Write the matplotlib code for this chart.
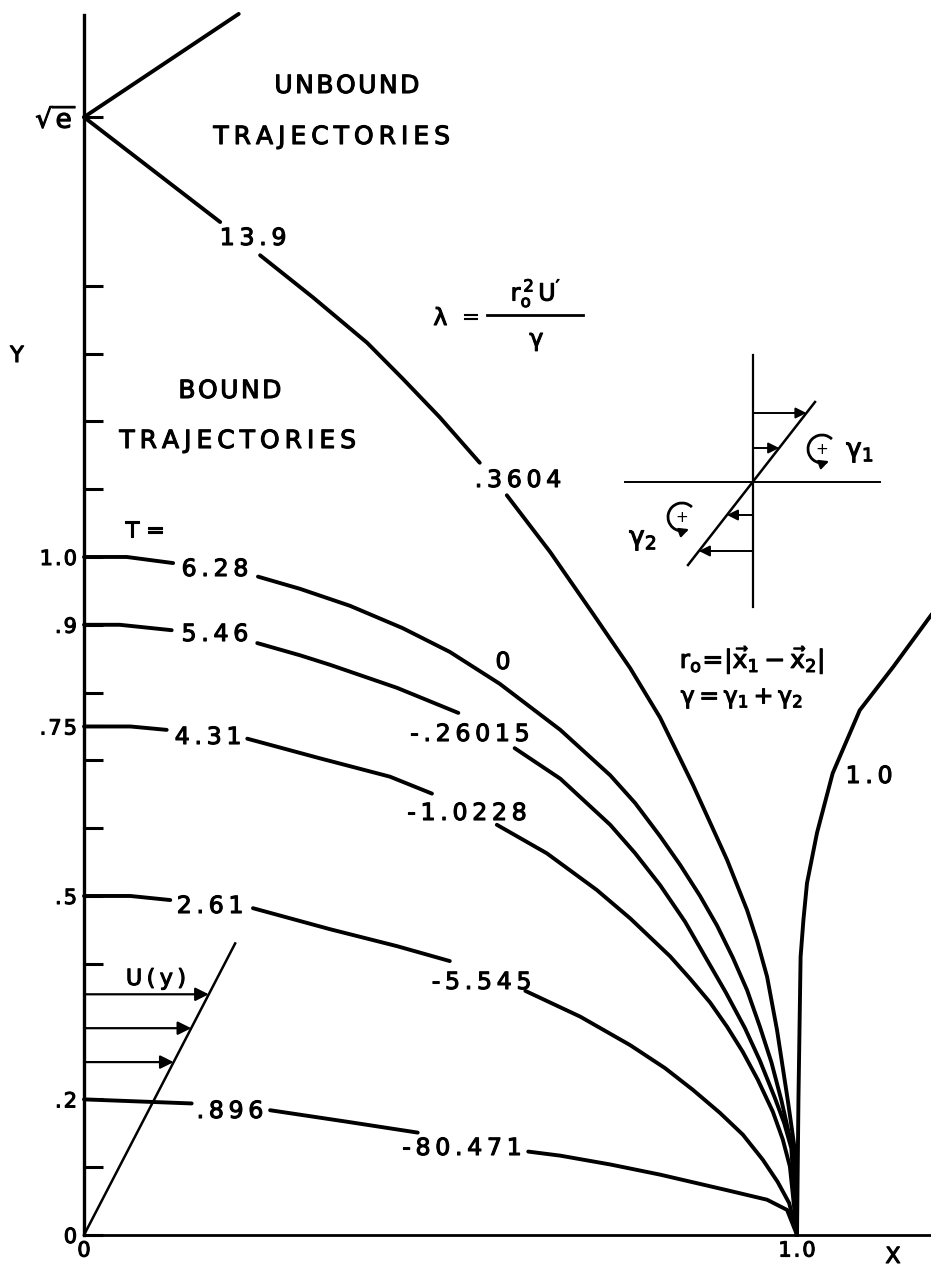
import numpy as np
import matplotlib
matplotlib.use('Agg')
import matplotlib.pyplot as plt
import matplotlib.patheffects as pe
from matplotlib.patches import Arc

plt.rcParams['font.family'] = ['DejaVu Sans']
plt.rcParams['mathtext.default'] = 'regular'

nan = np.nan
SQRT_E = np.sqrt(np.e)

# unbound branch leaving sqrt(e)
unb_x = [0, 0.217]
unb_y = [SQRT_E, 1.801]

# separatrix: T = 13.9, lambda = .3604
sep_x = [0, 0.191, nan, 0.247, 0.321, 0.397, 0.447, 0.499, 0.555, nan, 0.593, 0.654, 0.714,
         0.766, 0.808, 0.854, 0.902, 0.930, 0.944, 0.958, 0.972, 0.987, 0.997, 1.0]
sep_y = [SQRT_E, 1.494, nan, 1.445, 1.383, 1.316, 1.263, 1.206, 1.139, nan, 1.091, 1.007, 0.916,
         0.836, 0.763, 0.664, 0.553, 0.479, 0.434, 0.381, 0.302, 0.199, 0.125, 0.0]

# bound trajectories, start at y = 1.0, .9, .75, .5, .2
t628_x = [0, 0.060, 0.125, nan, 0.244, 0.303, 0.373, 0.447, 0.513, 0.583, 0.668, 0.738,
          0.773, 0.808, 0.836, 0.864, 0.888, 0.910, 0.930, 0.948, 0.964, 0.978, 0.994, 1.0]
t628_y = [1.0, 1.0, 0.991, nan, 0.971, 0.953, 0.928, 0.895, 0.860, 0.813, 0.745, 0.678,
          0.637, 0.588, 0.546, 0.500, 0.456, 0.409, 0.361, 0.307, 0.255, 0.199, 0.125, 0.0]

t546_x = [0, 0.050, 0.123, nan, 0.243, 0.303, 0.345, 0.439, 0.525, nan, 0.604, 0.668,
          0.738, 0.773, 0.808, 0.843, 0.872, 0.900, 0.927, 0.948, 0.969, 0.982, 0.992, 1.0]
t546_y = [0.9, 0.9, 0.892, nan, 0.873, 0.855, 0.841, 0.807, 0.770, nan, 0.718, 0.673,
          0.605, 0.563, 0.516, 0.462, 0.409, 0.358, 0.305, 0.257, 0.202, 0.165, 0.128, 0.0]

t431_x = [0, 0.065, 0.116, nan, 0.229, 0.331, 0.429, 0.488, nan, 0.579, 0.649, 0.719,
          0.766, 0.822, 0.850, 0.878, 0.902, 0.924, 0.945, 0.966, 0.980, 0.990, 1.0]
t431_y = [0.75, 0.75, 0.745, nan, 0.732, 0.703, 0.676, 0.651, nan, 0.605, 0.563, 0.509,
          0.467, 0.411, 0.378, 0.343, 0.307, 0.270, 0.229, 0.182, 0.141, 0.101, 0.0]

t261_x = [0, 0.065, 0.121, nan, 0.237, 0.345, 0.439, 0.513, nan, 0.619, 0.696, 0.766,
          0.815, 0.854, 0.892, 0.924, 0.952, 0.973, 0.989, 1.0]
t261_y = [0.5, 0.5, 0.494, nan, 0.482, 0.451, 0.426, 0.404, nan, 0.360, 0.322, 0.280,
          0.246, 0.214, 0.180, 0.148, 0.111, 0.078, 0.047, 0.0]

t896_x = [0, 0.151, nan, 0.261, 0.331, 0.369, 0.468, nan, 0.623, 0.668, 0.738, 0.808,
          0.902, 0.958, 0.986, 1.0]
t896_y = [0.2, 0.194, nan, 0.184, 0.173, 0.167, 0.151, nan, 0.123, 0.117, 0.104, 0.089,
          0.066, 0.052, 0.037, 0.0]

# lambda = 1.0 branch to the right of x = 1
lam1_x = [1.0, 1.002, 1.005, 1.009, 1.014, 1.028, 1.050, 1.088, 1.135, 1.190]
lam1_y = [0.0, 0.2, 0.41, 0.465, 0.519, 0.593, 0.681, 0.774, 0.838, 0.917]

# shear profile U(y)
u_x = [0, 0.212]
u_y = [0, 0.43]
u_arrow_y = [0.255, 0.305, 0.355]

ytick_vals = [0, 0.1, 0.2, 0.4, 0.5, 0.6, 0.7, 0.75, 0.8, 0.9, 1.0, 1.1, 1.2, 1.3, 1.4, SQRT_E]
ytick_labels = ['0', '', '.2', '', '.5', '', '', '.75', '', '.9', '1.0', '', '', '', '',
                r'$\sqrt{e}$']

# inset: two vortices in shear
ins_line_x = [-0.65, 0.62]
ins_line_y = [-0.83, 0.80]
ins_arrow_y = [0.69, 0.34, -0.33, -0.69]

THIN = '\u2009'
HAIR = '\u200a'
INK = [pe.withStroke(linewidth=0.8, foreground='black')]


def spaced(s, sep=THIN):
    return sep.join(s)


W, H = 931, 1268
fig = plt.figure(figsize=(W / 100, H / 100), dpi=100)
ax = fig.add_axes([0, 0, 1, 1])
ax.set_xlim(-0.1178, 1.1879)
ax.set_ylim(-0.0487, 1.8215)

for s in ['top', 'right']:
    ax.spines[s].set_visible(False)
ax.spines['left'].set_position(('data', 0))
ax.spines['left'].set_bounds(0, 1.799)
ax.spines['bottom'].set_position(('data', 0))
ax.spines['bottom'].set_bounds(0, 1.19)
ax.spines['left'].set_linewidth(2.4)
ax.spines['bottom'].set_linewidth(2.0)

ax.set_yticks(ytick_vals, [spaced(t, HAIR) if '$' not in t else t for t in ytick_labels])
ax.tick_params(axis='y', direction='in', length=14, width=2.2, pad=5, labelsize=15)
ax.get_yticklabels()[-1].set_fontsize(19)
ax.set_xticks([0, 1.0], ['0', spaced('1.0', HAIR)])
ax.tick_params(axis='x', length=0, pad=4, labelsize=15)
for t in ax.get_yticklabels() + ax.get_xticklabels():
    t.set_path_effects(INK)

lw = 2.8
for xs, ys in [(unb_x, unb_y), (sep_x, sep_y), (t628_x, t628_y), (t546_x, t546_y),
               (t431_x, t431_y), (t261_x, t261_y), (t896_x, t896_y), (lam1_x, lam1_y)]:
    ax.plot(xs, ys, color='black', lw=lw, solid_capstyle='round', solid_joinstyle='round')

ax.plot(u_x, u_y, color='black', lw=1.8)
for yv in u_arrow_y:
    tip = np.interp(yv, u_y, u_x)
    ax.annotate('', xy=(tip, yv), xytext=(0, yv),
                arrowprops=dict(arrowstyle='-|>', lw=1.6, color='black',
                                mutation_scale=20, shrinkA=0, shrinkB=0))


def put(px, py, s, size=17, **kw):
    fig.text(px / W, 1 - py / H, s, ha='center', va='center', fontsize=size,
             path_effects=INK, **kw)


# curve labels
for px, py, s in [(253, 238, '13.9'), (518, 480, '.3604'), (215, 569, '6.28'),
                  (215, 634, '5.46'), (208, 737, '4.31'), (210, 906, '2.61'),
                  (230, 1111, '.896'), (503, 662, '0'), (470, 734, '-.26015'),
                  (467, 813, '-1.0228'), (482, 982, '-5.545'), (462, 1148, '-80.471'),
                  (869, 776, '1.0')]:
    put(px, py, spaced(s))

put(347, 86, spaced('UNBOUND', HAIR), 18)
put(332, 137, spaced('TRAJECTORIES'), 18)
put(230, 391, spaced('BOUND', HAIR), 18)
put(238, 441, spaced('TRAJECTORIES'), 18)
put(145, 531, 'T =', 16)
put(17, 356, 'Y', 16)
put(893, 1257, 'X', 16)
put(156, 979, spaced('U(y)'), 16)

# lambda definition
put(441, 318, r'$\lambda$', 17)
put(471, 317, '=', 15)
fig.add_artist(plt.Line2D([487 / W, 583 / W], [1 - 315 / H, 1 - 315 / H], color='black', lw=2))
put(536, 293, r'$r_o^{\,2}\,U^{\prime}$', 17)
put(537, 341, r'$\gamma$', 17)
put(752, 660, r'$r_o\!=\!|\vec{x}_1 - \vec{x}_2|$', 18)
put(742, 698, r'$\gamma=\gamma_1+\gamma_2$', 17)

# inset sketch
iax = fig.add_axes([600 / W, 1 - 620 / H, 300 / W, 280 / H])
iax.set_xlim(-1.53, 1.47)
iax.set_ylim(-1.38, 1.42)
iax.axis('off')
iax.plot([0, 0], [-1.25, 1.27], color='black', lw=1.6)
iax.plot([-1.28, 1.27], [0, 0], color='black', lw=1.4)
iax.plot(ins_line_x, ins_line_y, color='black', lw=1.8)
for yv in ins_arrow_y:
    tip = np.interp(yv, ins_line_y, ins_line_x)
    iax.annotate('', xy=(tip, yv), xytext=(0, yv),
                 arrowprops=dict(arrowstyle='-|>', lw=1.4, color='black',
                                 mutation_scale=16, shrinkA=0, shrinkB=0))

for cx, cy in [(0.69, 0.33), (-0.71, -0.35)]:
    r = 0.14
    iax.add_patch(Arc((cx, cy), 2 * r, 2 * r, theta1=45, theta2=290, color='black', lw=2))
    a0, a1 = np.radians(280), np.radians(300)
    iax.annotate('', xy=(cx + r * np.cos(a1), cy + r * np.sin(a1)),
                 xytext=(cx + r * np.cos(a0), cy + r * np.sin(a0)),
                 arrowprops=dict(arrowstyle='-|>', lw=1.5, color='black',
                                 mutation_scale=14, shrinkA=0, shrinkB=0))
    iax.text(cx, cy, '+', ha='center', va='center', fontsize=11)

iax.text(1.07, 0.30, r'$\gamma_1$', ha='center', va='center', fontsize=19, path_effects=INK)
iax.text(-1.10, -0.58, r'$\gamma_2$', ha='center', va='center', fontsize=19, path_effects=INK)

fig.savefig('out.png', dpi=100)
